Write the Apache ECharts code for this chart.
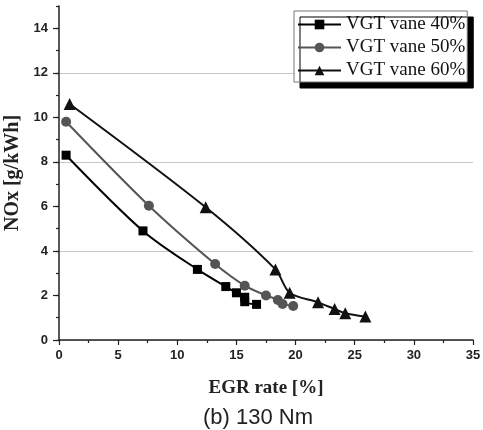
<!DOCTYPE html>
<html>
<head>
<meta charset="utf-8">
<script src="https://cdn.jsdelivr.net/npm/echarts@6/dist/echarts.min.js"></script>
<style>
  html, body { margin: 0; padding: 0; background: #fff; }
  #chart { width: 483px; height: 430px; }
</style>
</head>
<body>
<div id="chart"></div>
<script>
// values
var seriesNames = ['VGT vane 40%', 'VGT vane 50%', 'VGT vane 60%']
var egr40 = [0.6, 7.1, 11.7, 14.1, 15.0, 15.7, 15.7, 16.7]
var nox40 = [8.3, 4.9, 3.17, 2.4, 2.12, 1.92, 1.72, 1.6]
var egr50 = [0.6, 7.6, 13.2, 15.7, 17.5, 18.5, 18.9, 19.8]
var nox50 = [9.8, 6.03, 3.41, 2.44, 2.0, 1.8, 1.62, 1.53]
var egr60 = [0.9, 12.4, 18.3, 19.5, 21.9, 23.3, 24.2, 25.9]
var nox60 = [10.6, 5.96, 3.17, 2.12, 1.69, 1.39, 1.2, 1.05]
var yMajorTicks = [0, 2, 4, 6, 8, 10, 12, 14]

function pairs(xs, ys) {
  return xs.map(function (x, i) { return [x, ys[i]] })
}

var chart = echarts.init(document.getElementById('chart'))

chart.setOption({
  backgroundColor: '#fff',
  animation: false,
  title: {
    text: '(b) 130 Nm',
    left: 203,
    top: 407,
    padding: 0,
    textStyle: {
      fontFamily: 'Liberation Sans',
      fontWeight: 'normal',
      fontSize: 22,
      color: '#222'
    }
  },
  legend: {
    orient: 'vertical',
    left: 294,
    top: 11,
    padding: [4, 2, 2, 3],
    itemWidth: 43,
    itemHeight: 12,
    itemGap: 4,
    backgroundColor: '#fff',
    borderColor: '#777',
    borderWidth: 1,
    shadowColor: '#000',
    shadowBlur: 0,
    shadowOffsetX: 6,
    shadowOffsetY: 6,
    textStyle: {
      fontFamily: 'Liberation Serif',
      fontSize: 19,
      color: '#111'
    },
    data: seriesNames
  },
  grid: {
    left: 59,
    right: 10,
    top: 6,
    bottom: 90,
    containLabel: false,
    outerBoundsMode: 'none'
  },
  xAxis: {
    type: 'value',
    min: 0,
    max: 35,
    interval: 5,
    name: 'EGR rate [%]',
    nameLocation: 'middle',
    nameGap: 39,
    nameTextStyle: {
      fontFamily: 'Liberation Serif',
      fontWeight: 'bold',
      fontSize: 19,
      color: '#222'
    },
    axisLine: { lineStyle: { color: '#222', width: 1.5 } },
    axisTick: { length: 5, lineStyle: { color: '#222', width: 1.2 } },
    minorTick: { show: true, splitNumber: 2, length: 3, lineStyle: { color: '#222', width: 1.2 } },
    axisLabel: {
      margin: 9,
      fontFamily: 'Liberation Sans',
      fontWeight: 'bold',
      fontSize: 13,
      color: '#222'
    },
    splitLine: { show: false }
  },
  yAxis: [{
    type: 'value',
    min: 0,
    max: 15,
    interval: 1,
    name: 'NOx [g/kWh]',
    nameLocation: 'middle',
    nameGap: 29,
    nameTextStyle: {
      fontFamily: 'Liberation Serif',
      fontWeight: 'bold',
      fontSize: 20,
      color: '#222'
    },
    axisLine: { show: true, lineStyle: { color: '#222', width: 1.5 } },
    axisTick: { length: 6, customValues: yMajorTicks, lineStyle: { color: '#222', width: 1.2 } },
    axisLabel: {
      margin: 11,
      customValues: yMajorTicks,
      fontFamily: 'Liberation Sans',
      fontWeight: 'bold',
      fontSize: 13,
      color: '#222'
    },
    splitLine: {
      show: true,
      lineStyle: { color: ['#c8c8c8', 'transparent'], width: 1 }
    }
  }, {
    // minor ticks every 1
    type: 'value',
    position: 'left',
    min: 0,
    max: 15,
    interval: 1,
    axisLine: { show: false },
    axisTick: { show: true, length: 3, lineStyle: { color: '#222', width: 1.2 } },
    axisLabel: { show: false },
    splitLine: { show: false }
  }],
  series: [{
    name: seriesNames[0],
    type: 'line',
    smooth: 0.3,
    symbol: 'rect',
    symbolSize: 9,
    lineStyle: { color: '#000', width: 2 },
    itemStyle: { color: '#000' },
    z: 4,
    data: pairs(egr40, nox40)
  }, {
    name: seriesNames[1],
    type: 'line',
    smooth: 0.3,
    symbol: 'circle',
    symbolSize: 10,
    lineStyle: { color: '#555', width: 2 },
    itemStyle: { color: '#555' },
    z: 3,
    data: pairs(egr50, nox50)
  }, {
    name: seriesNames[2],
    type: 'line',
    smooth: 0.3,
    symbol: 'triangle',
    symbolSize: 12,
    lineStyle: { color: '#111', width: 2 },
    itemStyle: { color: '#111' },
    z: 2,
    data: pairs(egr60, nox60)
  }]
})
</script>
</body>
</html>
